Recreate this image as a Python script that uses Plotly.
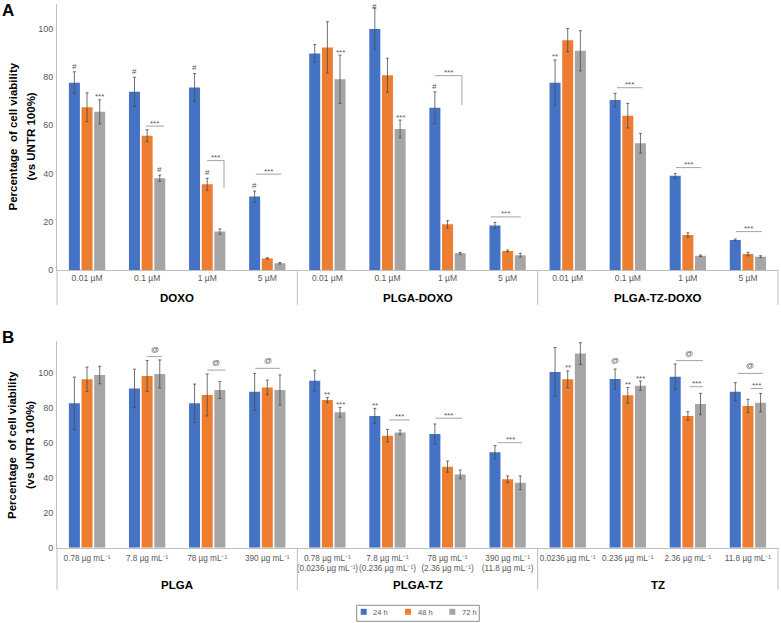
import plotly.graph_objects as go

W, H = 781, 623

# ---------------- data ----------------
series_names = ["24 h", "48 h", "72 h"]
series_colors = ["#4472C4", "#ED7D31", "#A5A5A5"]

# Panel A
groups_A = ["DOXO", "PLGA-DOXO", "PLGA-TZ-DOXO"]
doses_A = ["0.01 µM", "0.1 µM", "1 µM", "5 µM"]
ticks_A = doses_A * 3

a_24h = [77.6, 73.8, 75.6, 30.4, 89.7, 99.8, 67.2, 18.4, 77.6, 70.4, 39.0, 12.4]
a_24h_err = [4.5, 6.0, 5.8, 2.3, 3.7, 8.6, 6.6, 1.3, 9.4, 2.8, 1.0, 0.4]
a_48h = [67.4, 55.6, 35.5, 4.8, 92.2, 80.7, 18.9, 7.9, 95.2, 63.9, 14.5, 6.6]
a_48h_err = [6.0, 2.5, 2.5, 0.3, 10.6, 7.0, 1.5, 0.4, 4.8, 5.1, 0.9, 0.7]
a_72h = [65.5, 38.0, 15.9, 2.8, 79.0, 58.4, 6.9, 6.1, 90.8, 52.5, 5.9, 5.5]
a_72h_err = [5.0, 1.3, 1.1, 0.3, 10.0, 3.7, 0.4, 0.8, 8.3, 4.1, 0.3, 0.4]

# Panel B
groups_B = ["PLGA", "PLGA-TZ", "TZ"]
ticks_B = [
    "0.78 µg mL⁻¹", "7.8 µg mL⁻¹", "78 µg mL⁻¹", "390 µg mL⁻¹",
    "0.78 µg mL⁻¹<br>(0.0236 µg mL⁻¹)",
    "7.8 µg mL⁻¹<br>(0.236 µg mL⁻¹)",
    "78 µg mL⁻¹<br>(2.36 µg mL⁻¹)",
    "390 µg mL⁻¹<br>(11.8 µg mL⁻¹)",
    "0.0236 µg mL⁻¹", "0.236 µg mL⁻¹", "2.36 µg mL⁻¹", "11.8 µg mL⁻¹",
]

b_24h = [82.5, 91.0, 82.5, 89.1, 95.4, 75.3, 65.0, 54.5, 100.4, 96.4, 97.7, 89.1]
b_24h_err = [15.0, 11.0, 11.0, 10.5, 6.0, 4.3, 5.7, 3.8, 14.0, 5.7, 7.3, 5.2]
b_48h = [96.2, 98.1, 87.3, 91.6, 84.4, 64.0, 46.3, 39.1, 96.2, 87.1, 75.3, 81.0]
b_48h_err = [7.0, 8.8, 12.0, 4.2, 1.5, 3.6, 3.2, 1.9, 4.8, 4.5, 2.4, 3.8]
b_72h = [98.7, 99.3, 90.1, 90.1, 77.4, 65.9, 41.9, 37.1, 110.9, 92.6, 82.1, 82.9]
b_72h_err = [5.0, 8.0, 4.8, 8.6, 2.8, 1.3, 2.5, 3.9, 6.2, 2.6, 6.1, 5.3]

y_ticks = [0, 20, 40, 60, 80, 100]

# significance marks above single bars: (category, series, text)
marks_A = [(0, 0, "#"), (0, 2, "***"), (1, 0, "#"), (1, 2, "#"), (2, 0, "#"), (2, 1, "#"),
           (3, 0, "#"), (4, 2, "***"), (5, 0, "#"), (5, 2, "***"), (6, 0, "#"), (8, 0, "**")]
marks_B = [(4, 1, "**"), (4, 2, "***"), (5, 0, "**"), (8, 1, "**"), (9, 0, "@"), (9, 1, "**"), (9, 2, "***")]

# significance bars: (category, from, to, level, text, drop level or None)
brackets_A = [(1, -0.02, 0.28, 59.6, "***", None), (2, 0.0, 0.28, 45.3, "***", 34.0),
              (3, -0.19, 0.23, 39.7, "***", None), (6, -0.21, 0.24, 80.5, "***", 68.3),
              (7, -0.28, 0.22, 22.0, "***", None), (9, -0.18, 0.24, 75.5, "***", None),
              (10, -0.2, 0.22, 42.4, "***", None), (11, -0.2, 0.23, 15.9, "***", None)]
brackets_B = [(1, 0.0, 0.25, 109.2, "@", None), (2, 0.0, 0.3, 101.5, "@", None),
              (3, -0.2, 0.21, 102.5, "@", None), (5, 0.03, 0.37, 73.0, "***", None),
              (6, -0.2, 0.24, 74.0, "***", None), (7, -0.16, 0.24, 60.0, "***", None),
              (10, -0.2, 0.25, 106.9, "@", None), (10, 0.03, 0.25, 92.0, "***", None),
              (11, -0.17, 0.25, 99.6, "@", None), (11, 0.05, 0.25, 91.0, "***", None)]

# ---------------- layout constants ----------------
FONT = "Liberation Sans, Arial, sans-serif"
TXT = "#595959"
AXC = "#BFBFBF"
ERRC = "#4d4d4d"
X0, X1 = 57, 778
A_Y0, A_TOP, A_MAX = 270, 4.4, 110
B_Y0, B_TOP, B_MAX = 547.7, 341.2, 118
BARGAP, GROUPGAP = 0.368, 0.13
SLOT = (1 - BARGAP) / 3
offsets = [-SLOT, 0, SLOT]
ncat = len(ticks_A)


def px_x(x):
    return x / W


def px_y(y):
    return 1 - y / H


def cat_px(c):
    return X0 + (c + 0.5) / ncat * (X1 - X0)


fig = go.Figure()

panels = [
    ("x", "y", [a_24h, a_48h, a_72h], [a_24h_err, a_48h_err, a_72h_err], A_MAX),
    ("x2", "y2", [b_24h, b_48h, b_72h], [b_24h_err, b_48h_err, b_72h_err], B_MAX),
]
cats = list(range(ncat))
for xa, ya, vals, errs, _ in panels:
    for i in range(3):
        fig.add_trace(go.Bar(
            x=cats, y=vals[i], name=series_names[i],
            marker=dict(color=series_colors[i], line=dict(width=0)),
            error_y=dict(type="data", array=errs[i], visible=True, color=ERRC, thickness=0.8, width=1.5),
            xaxis=xa, yaxis=ya, showlegend=False,
        ))

annotations = []
shapes = []

# single marks
for (xr, yr, vals, errs, ymax), marks in zip(panels, [marks_A, marks_B]):
    for c, s, t in marks:
        top = min(vals[s][c] + errs[s][c], ymax - 3)
        star = "*" in t
        annotations.append(dict(
            x=c + offsets[s], y=top, xref=xr, yref=yr, text=t, showarrow=False,
            xanchor="center", yanchor="middle" if star else "bottom", yshift=3 if star else (2 if t == "@" else -1),
            font=dict(family=FONT, size=8, color=TXT)))

# brackets
for (xr, yr, brs) in [("x", "y", brackets_A), ("x2", "y2", brackets_B)]:
    for c, a, b, lvl, t, drop in brs:
        shapes.append(dict(type="line", xref=xr, yref=yr, x0=c + a, x1=c + b, y0=lvl, y1=lvl,
                           line=dict(color="#8c8c8c", width=0.8)))
        if drop is not None:
            shapes.append(dict(type="line", xref=xr, yref=yr, x0=c + b, x1=c + b, y0=lvl, y1=drop,
                               line=dict(color="#8c8c8c", width=0.8)))
        star = "*" in t
        annotations.append(dict(
            x=c + (a + b) / 2, y=lvl, xref=xr, yref=yr, text=t, showarrow=False,
            xanchor="center", yanchor="middle" if star else "bottom", yshift=3 if star else 1,
            font=dict(family=FONT, size=8, color=TXT)))

# category dividers and group labels
for y_axis, y_bottom, y_label, groups in [(A_Y0, 305, 298, groups_A), (B_Y0, 590, 585, groups_B)]:
    for c in [-0.5, 3.5, 7.5, 11.5]:
        shapes.append(dict(type="line", xref="paper", yref="paper",
                           x0=px_x(cat_px(c)), x1=px_x(cat_px(c)), y0=px_y(y_axis), y1=px_y(y_bottom),
                           line=dict(color=AXC, width=1)))
    for g, name in enumerate(groups):
        annotations.append(dict(x=px_x(cat_px(4 * g + 1.5)), y=px_y(y_label), xref="paper", yref="paper",
                                text="<b>%s</b>" % name, showarrow=False, xanchor="center", yanchor="middle",
                                font=dict(family=FONT, size=11.5, color="#000000")))

# y titles
for yc in [136.5, 445]:
    annotations.append(dict(x=px_x(12), y=px_y(yc), xref="paper", yref="paper",
                            text="<b>Percentage  of cell viability</b>", textangle=-90, showarrow=False,
                            xanchor="center", yanchor="middle", font=dict(family=FONT, size=11.5, color="#000000")))
    annotations.append(dict(x=px_x(30), y=px_y(yc), xref="paper", yref="paper",
                            text="<b>(vs UNTR 100%)</b>", textangle=-90, showarrow=False,
                            xanchor="center", yanchor="middle", font=dict(family=FONT, size=11.5, color="#000000")))

# panel letters
for letter, yc in [("A", 11), ("B", 337)]:
    annotations.append(dict(x=0, y=px_y(yc), xref="paper", yref="paper", text="<b>%s</b>" % letter,
                            showarrow=False, xanchor="left", yanchor="middle",
                            font=dict(family=FONT, size=17, color="#000000")))

# legend (boxed, centred under panel B)
LG_X0, LG_X1, LG_Y0, LG_Y1 = 356.7, 479.3, 605.3, 621.3
shapes.append(dict(type="rect", xref="paper", yref="paper", x0=px_x(LG_X0), x1=px_x(LG_X1),
                   y0=px_y(LG_Y1), y1=px_y(LG_Y0), line=dict(color="#8c8c8c", width=1), fillcolor="white"))
for i, (name, col) in enumerate(zip(series_names, series_colors)):
    sx = 360.7 + i * 44.3
    shapes.append(dict(type="rect", xref="paper", yref="paper", x0=px_x(sx), x1=px_x(sx + 6),
                       y0=px_y(614.8), y1=px_y(608.8), line=dict(width=0), fillcolor=col))
    annotations.append(dict(x=px_x(sx + 10.5), y=px_y(612), xref="paper", yref="paper", text=name,
                            showarrow=False, xanchor="left", yanchor="middle",
                            font=dict(family=FONT, size=7.5, color=TXT)))

xcommon = dict(domain=[px_x(X0), px_x(X1)], range=[-0.5, 11.5], tickmode="array", tickvals=cats,
               showline=True, linecolor=AXC, linewidth=1, ticks="", showgrid=False, zeroline=False,
               tickangle=0, fixedrange=True)
ycommon = dict(tickmode="array", tickvals=y_ticks, showline=True, linecolor=AXC, linewidth=1,
               ticks="", showgrid=False, zeroline=False, ticklabelstandoff=1,
               tickfont=dict(family=FONT, size=9, color=TXT), fixedrange=True)

fig.update_layout(
    width=W, height=H, margin=dict(l=0, r=0, t=0, b=0, autoexpand=False),
    paper_bgcolor="white", plot_bgcolor="white",
    barmode="group", bargap=BARGAP, bargroupgap=GROUPGAP,
    xaxis=dict(xcommon, anchor="y", ticktext=ticks_A, tickfont=dict(family=FONT, size=8.5, color=TXT)),
    yaxis=dict(ycommon, anchor="x", domain=[px_y(A_Y0), px_y(A_TOP)], range=[0, A_MAX]),
    xaxis2=dict(xcommon, anchor="y2", ticktext=ticks_B, ticklabelstandoff=2,
                tickfont=dict(family=FONT, size=8.2, color=TXT)),
    yaxis2=dict(ycommon, anchor="x2", domain=[px_y(B_Y0), px_y(B_TOP)], range=[0, B_MAX]),
    showlegend=False,
    annotations=annotations, shapes=shapes, hovermode=False,
    font=dict(family=FONT),
)

fig.write_html("out.html", config={"displayModeBar": False},
               post_script="document.body.style.margin='0';document.body.style.overflow='hidden';")
